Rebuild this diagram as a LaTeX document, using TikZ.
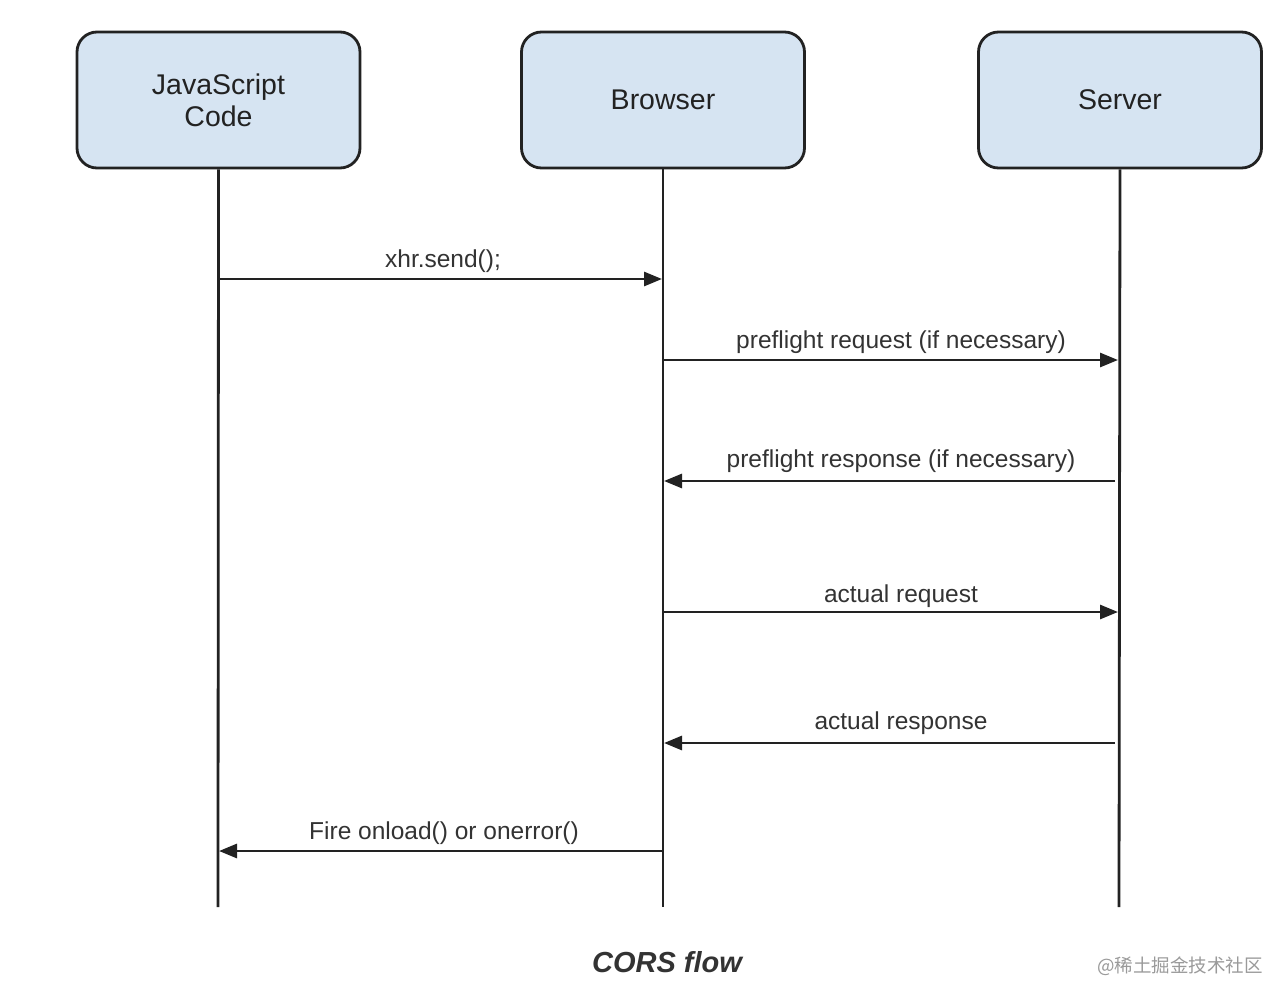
\documentclass[tikz,border=0pt]{standalone}
\usepackage{fontspec}
\setmainfont{Liberation Sans}
\newfontfamily\cjk{Noto Sans CJK SC}
\usetikzlibrary{arrows.meta}
\definecolor{boxfill}{HTML}{D6E4F2}
\definecolor{boxline}{HTML}{222222}
\definecolor{labtext}{HTML}{333333}
\definecolor{wmark}{HTML}{9A9A9A}
\tikzset{
  actor/.style={draw=boxline, fill=boxfill, line width=2.8pt, rounded corners=20pt,
    minimum width=283pt, minimum height=136pt, align=center, text=boxline,
    font=\fontsize{28.5}{32}\selectfont, inner sep=0pt},
  life/.style={line width=2.8pt, draw=boxline},
  msg/.style={line width=2.8pt, draw=boxline, -{Triangle[length=18pt,width=14pt]}},
  lab/.style={text=labtext, font=\fontsize{24.5}{28}\selectfont, inner sep=0pt, anchor=base}
}
\begin{document}
\begin{tikzpicture}[x=1pt,y=-1pt]
\useasboundingbox (0,0) rectangle (1286,1002);
\fill[white] (0,0) rectangle (1286,1002);
\node[actor] (js) at (218.5,100) {JavaScript\\Code};
\node[actor] (br) at (663,100) {Browser};
\node[actor] (sv) at (1120,100) {Server};
\coordinate (jsE) at (218,907);
\coordinate (brE) at (663,907);
\coordinate (svE) at (1119,907);
\draw[life] (js.south) -- (jsE);
\draw[life] (br.south) -- (brE);
\draw[life] (sv.south) -- (svE);
% message anchors
\coordinate (a1) at (218,279); \coordinate (b1) at (662,279);
\coordinate (a2) at (663,360); \coordinate (b2) at (1118,360);
\coordinate (a3) at (1115,481); \coordinate (b3) at (664,481);
\coordinate (a4) at (663,612); \coordinate (b4) at (1118,612);
\coordinate (a5) at (1115,743); \coordinate (b5) at (664,743);
\coordinate (a6) at (663,851); \coordinate (b6) at (219,851);
\draw[msg] (a1) -- (b1);
\draw[msg] (a2) -- (b2);
\draw[msg] (a3) -- (b3);
\draw[msg] (a4) -- (b4);
\draw[msg] (a5) -- (b5);
\draw[msg] (a6) -- (b6);
\node[lab] (l1) at (443,267) {xhr.send();};
\node[lab] (l2) at (901,348) {preflight request (if necessary)};
\node[lab] (l3) at (901,467) {preflight response (if necessary)};
\node[lab] (l4) at (901,602) {actual request};
\node[lab] (l5) at (901,729) {actual response};
\node[lab] (l6) at (444,839) {Fire onload() or onerror()};
\node[text=labtext, font=\fontsize{29}{33}\selectfont\bfseries\itshape, anchor=base] (cap) at (667,972) {CORS flow};
\node[text=wmark, font=\cjk\fontsize{18.5}{22}\selectfont, anchor=base] (wm) at (1180,972) {@稀土掘金技术社区};
\end{tikzpicture}
\end{document}
